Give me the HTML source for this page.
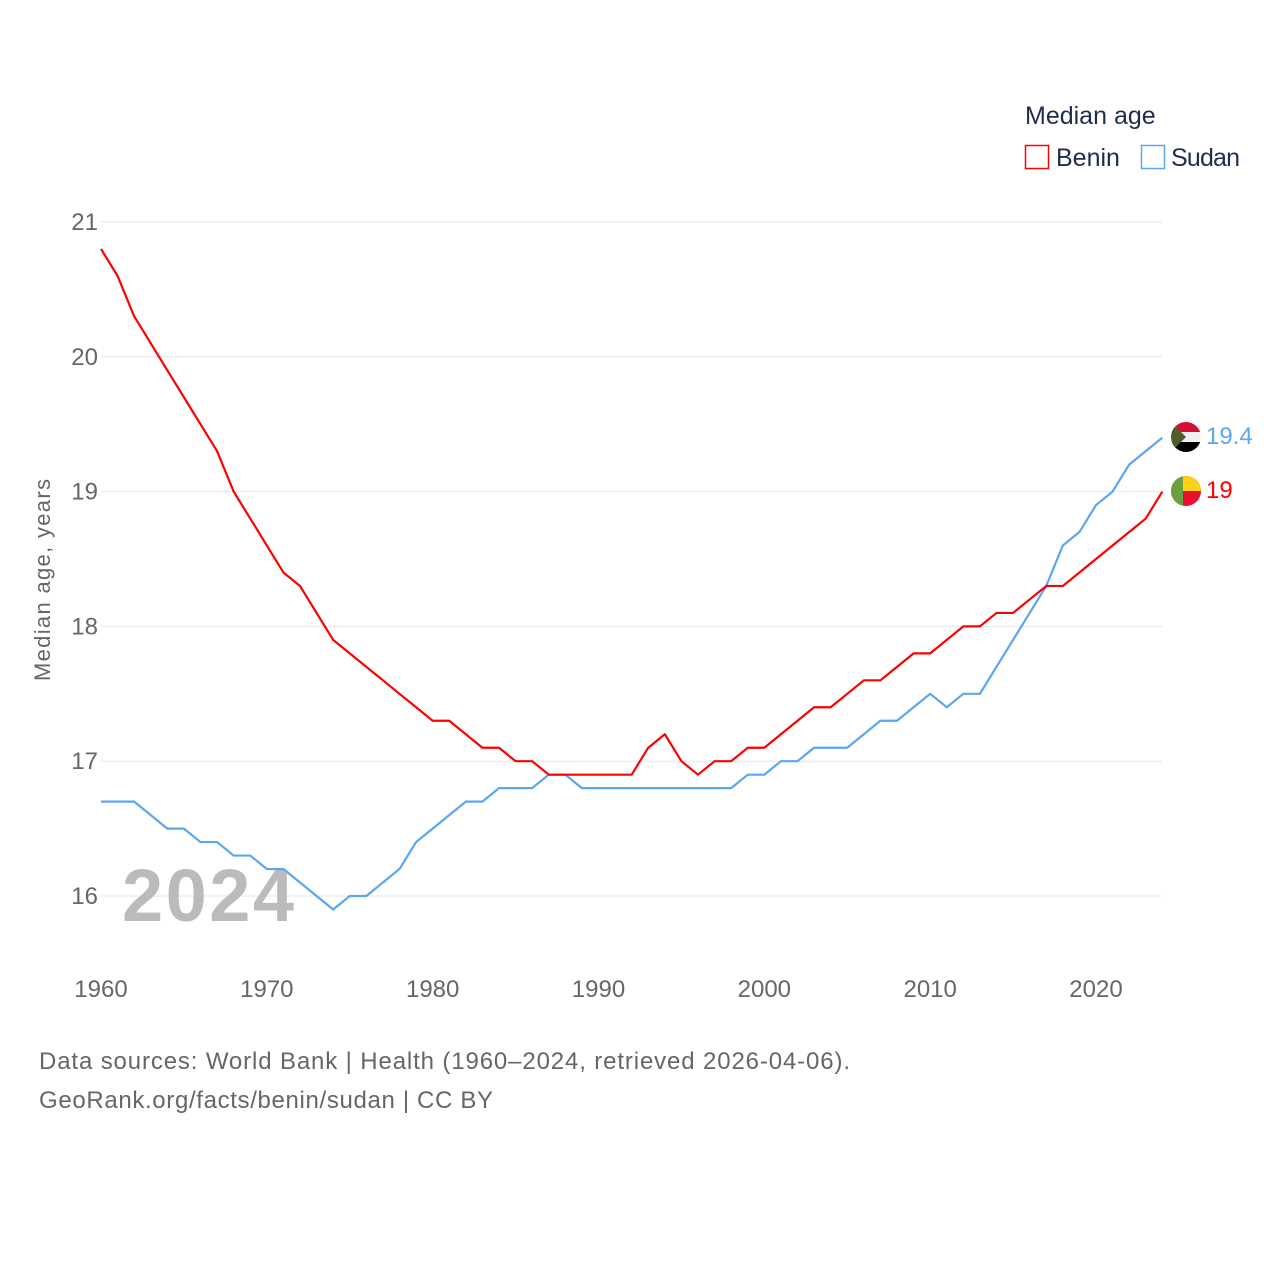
<!DOCTYPE html>
<html><head><meta charset="utf-8"><style>
body{margin:0;background:#fff;font-family:"Liberation Sans",sans-serif;}
svg text{font-family:"Liberation Sans",sans-serif;}
</style></head><body>
<svg id="chart" width="1280" height="1280" viewBox="0 0 1280 1280">
<defs>
<clipPath id="c1"><circle cx="1186" cy="437" r="15"/></clipPath>
<clipPath id="c2"><circle cx="1186" cy="491" r="15"/></clipPath>
</defs>
<text x="1025" y="124" font-size="25" fill="#1f2d4d">Median age</text>
<rect x="1025.5" y="145.5" width="23" height="23" fill="none" stroke="#ff0000" stroke-width="1.5"/>
<text x="1056" y="166" font-size="25" fill="#1f2d4d">Benin</text>
<rect x="1141.5" y="145.5" width="23" height="23" fill="none" stroke="#5aa6ef" stroke-width="1.5"/>
<text x="1171" y="166" font-size="25" fill="#1f2d4d" textLength="69">Sudan</text>
<g id="grid"></g>
<text x="0" y="0" transform="translate(50,580) rotate(-90)" text-anchor="middle" font-size="22" fill="#666" textLength="202">Median age, years</text>
<text x="122" y="921" font-size="74" font-weight="bold" fill="#bbb" textLength="172">2024</text>
<g id="series"></g>
<g clip-path="url(#c1)">
<rect x="1171" y="422" width="30" height="10" fill="#d21034"/><rect x="1171" y="432" width="30" height="10" fill="#f0f0f0"/><rect x="1171" y="442" width="30" height="10" fill="#000"/><polygon points="1171,422 1186,437 1171,452" fill="#4d5e2a"/></g>
<g clip-path="url(#c2)">
<rect x="1171" y="476" width="30" height="30" fill="#e8112d"/><rect x="1171" y="476" width="30" height="15" fill="#fcd116"/><rect x="1171" y="476" width="12" height="30" fill="#6aa040"/></g>
<text x="1206" y="444" font-size="24" fill="#5aa6ef">19.4</text>
<text x="1206" y="498" font-size="24" fill="#ff0000">19</text>
<text x="39" y="1069" font-size="24" fill="#666" textLength="811">Data sources: World Bank | Health (1960–2024, retrieved 2026-04-06).</text>
<text x="39" y="1108" font-size="24" fill="#666" textLength="454">GeoRank.org/facts/benin/sudan | CC BY</text>
</svg>
<script>
const years=[];for(let y=1960;y<=2024;y++)years.push(y);
const benin=[20.8,20.6,20.3,20.1,19.9,19.7,19.5,19.3,19.0,18.8,18.6,18.4,18.3,18.1,17.9,17.8,17.7,17.6,17.5,17.4,17.3,17.3,17.2,17.1,17.1,17.0,17.0,16.9,16.9,16.9,16.9,16.9,16.9,17.1,17.2,17.0,16.9,17.0,17.0,17.1,17.1,17.2,17.3,17.4,17.4,17.5,17.6,17.6,17.7,17.8,17.8,17.9,18.0,18.0,18.1,18.1,18.2,18.3,18.3,18.4,18.5,18.6,18.7,18.8,19.0];
const sudan=[16.7,16.7,16.7,16.6,16.5,16.5,16.4,16.4,16.3,16.3,16.2,16.2,16.1,16.0,15.9,16.0,16.0,16.1,16.2,16.4,16.5,16.6,16.7,16.7,16.8,16.8,16.8,16.9,16.9,16.8,16.8,16.8,16.8,16.8,16.8,16.8,16.8,16.8,16.8,16.9,16.9,17.0,17.0,17.1,17.1,17.1,17.2,17.3,17.3,17.4,17.5,17.4,17.5,17.5,17.7,17.9,18.1,18.3,18.6,18.7,18.9,19.0,19.2,19.3,19.4];
const yTicks=[16,17,18,19,20,21];
const xTicks=[1960,1970,1980,1990,2000,2010,2020];
const NS='http://www.w3.org/2000/svg';
const xs=y=>101+(y-1960)*995/60;
const ys=v=>896-(v-16)*134.8;
const grid=document.getElementById('grid'),ser=document.getElementById('series');
yTicks.forEach(t=>{
 const l=document.createElementNS(NS,'line');
 l.setAttribute('x1',101);l.setAttribute('x2',1162);l.setAttribute('y1',ys(t));l.setAttribute('y2',ys(t));
 l.setAttribute('stroke','#e6e6e6');l.setAttribute('stroke-width',1);
 
 
 grid.appendChild(l);
 const tx=document.createElementNS(NS,'text');
 tx.setAttribute('x',98);tx.setAttribute('y',ys(t)+8);tx.setAttribute('text-anchor','end');
 tx.setAttribute('font-size',24);tx.setAttribute('fill','#666');tx.textContent=t;
 
 
 grid.appendChild(tx);
});
xTicks.forEach(t=>{
 const tx=document.createElementNS(NS,'text');
 tx.setAttribute('x',xs(t));tx.setAttribute('y',997);tx.setAttribute('text-anchor','middle');
 tx.setAttribute('font-size',24);tx.setAttribute('fill','#666');tx.textContent=t;
 
 
 grid.appendChild(tx);
});
function line(vals,color,name){
 const p=document.createElementNS(NS,'polyline');
 p.setAttribute('points',vals.map((v,i)=>xs(years[i])+','+ys(v)).join(' '));
 p.setAttribute('fill','none');p.setAttribute('stroke',color);p.setAttribute('stroke-width',2.2);
 p.setAttribute('stroke-linejoin','round');
 
 
 ser.appendChild(p);
}
line(sudan,'#5aa6ef','sudan-line');
line(benin,'#ff0000','benin-line');
</script>
</body></html>
